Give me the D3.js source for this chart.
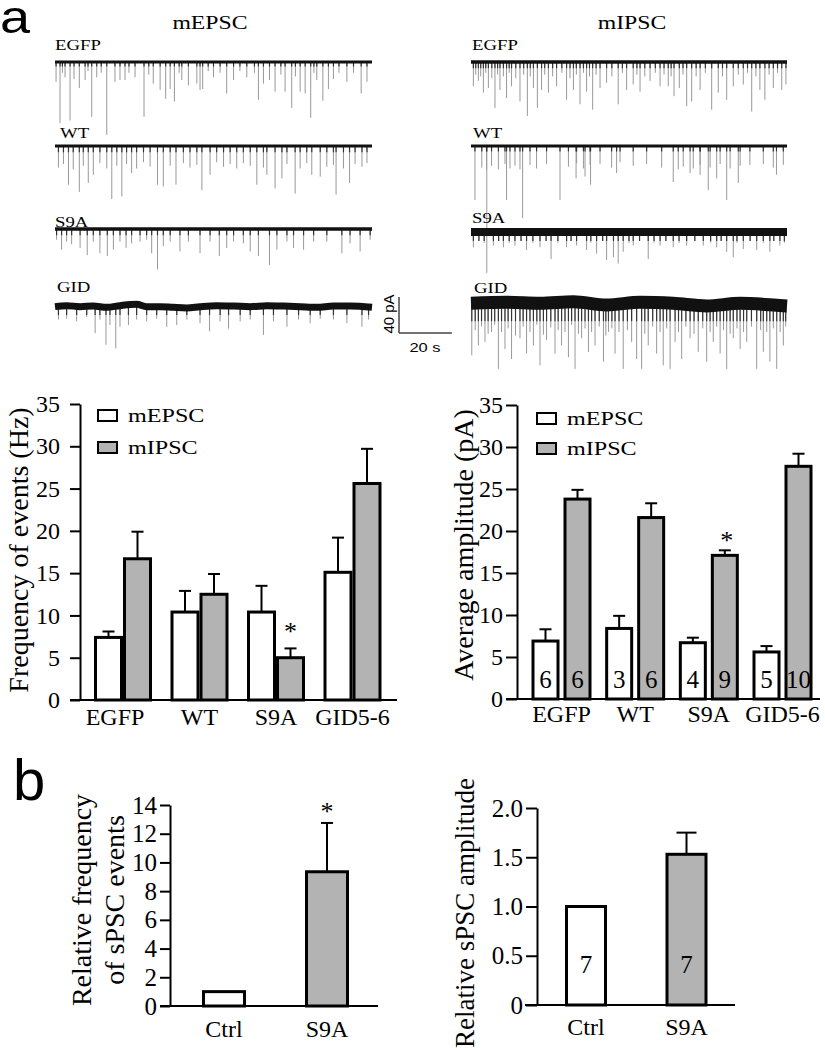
<!DOCTYPE html>
<html><head><meta charset="utf-8">
<script src="https://cdn.jsdelivr.net/npm/d3@7"></script>
<style>body{margin:0;background:#fff} svg{display:block}</style>
</head><body>
<svg id="fig" width="825" height="1050"></svg>
<script>
// ---------------- DATA ----------------
const groups = ["EGFP", "WT", "S9A", "GID5-6"];
const freqEPSC = [7.4, 10.4, 10.4, 15.1];
const freqEPSCerr = [0.7, 2.5, 3.1, 4.1];
const freqIPSC = [16.7, 12.5, 5.0, 25.6];
const freqIPSCerr = [3.2, 2.4, 1.1, 4.1];
const freqSig = [false, false, true, false];
const ampEPSC = [6.9, 8.4, 6.7, 5.6];
const ampEPSCerr = [1.4, 1.5, 0.6, 0.7];
const ampIPSC = [23.8, 21.6, 17.1, 27.7];
const ampIPSCerr = [1.1, 1.7, 0.6, 1.5];
const ampSig = [false, false, true, false];
const nEPSC = [6, 3, 4, 5];
const nIPSC = [6, 6, 9, 10];
const ticks35 = [0, 5, 10, 15, 20, 25, 30, 35];

const relCats = ["Ctrl", "S9A"];
const relFreq = [1.0, 9.35];
const relFreqErr = [0, 3.4];
const relFreqSig = [false, true];
const relFreqTicks = [0, 2, 4, 6, 8, 10, 12, 14];
const relAmp = [1.0, 1.53];
const relAmpErr = [0, 0.22];
const relAmpN = [7, 7];
const relAmpTicks = [0, 0.5, 1.0, 1.5, 2.0];
const relAmpTickLabels = ["0", "0.5", "1.0", "1.5", "2.0"];

// traces: [time s, event amplitude pA]
const traceNames = ["EGFP", "WT", "S9A", "GID"];
const egfpE = [[0.4,22],[1.9,68],[2.8,12],[3.8,17],[5.7,65],[7.2,19],[9.2,29],[11.4,20],[12.5,10],[13.9,61],[15.8,17],[17.5,12],[19.6,81],[22.7,22],[24.6,20],[26.5,20],[28,12],[30.3,17],[33.7,61],[35.5,14],[37.2,24],[39.8,31],[41.9,41],[43.6,30],[45.2,44],[47,12],[48,20],[50.5,26],[53.7,24],[54.9,31],[55.9,30],[58,10],[60,17],[62.5,12],[65,35],[67.6,20],[70,10],[72.6,17],[75.5,12],[77,42],[78.9,24],[81.2,20],[83.3,33],[85.5,14],[87.1,33],[89.6,51],[91,16],[92.8,33],[94.7,35],[96.8,62],[98,12],[99.1,20],[101.4,43],[103.5,30],[105.4,19],[107.5,12],[110.5,22],[113,12],[115.9,35],[118.1,22]];
const wtE = [[5.1,43],[9.2,51],[12.6,41],[14.5,32],[21.5,59],[25.3,56],[29.0,30],[38.8,43],[41.0,45],[45.8,43],[55.6,49],[58.7,32],[76.4,43],[80.2,32],[83.3,47],[85.9,36],[90.9,53],[97.2,32],[100.4,34],[106.4,54],[111.5,41],
  [1.3,24],[3.2,20],[6.9,26],[10.7,22],[17,19],[19.6,25],[23.4,22],[27.1,20],[30.9,25],[33.5,18],[36,23],[43.6,22],[48.6,19],[51.1,24],[53.7,21],[61.2,18],[63.8,23],[66.3,20],[68.8,25],[71.3,19],[73.9,22],[78.9,24],[87.8,20],[92.8,25],[95.3,19],[102.9,23],[105.4,21],[109.2,25],[113.6,20],[116.2,23],[118.1,19]];
const s9aE = [[0.6,12],[2.5,23],[4.4,14],[6.3,17],[9.5,21],[12.2,29],[14.5,14],[17,27],[19.8,30],[22.1,23],[24.6,14],[26.9,21],[29,16],[32.2,14],[34.7,12],[36.6,27],[38.8,45],[41,19],[43.6,14],[47.3,25],[50.5,14],[54.9,27],[58.7,14],[62.2,30],[65,21],[67.6,14],[71.3,16],[73.9,25],[77,30],[81.2,40],[84,23],[87.8,14],[90.3,21],[94.1,23],[97.9,14],[102.9,14],[108.6,27],[111.7,16],[115.5,25],[119.3,12]];
const gidE = [[1.3,14],[4.4,13],[8.2,16],[12,11],[15.2,29],[17,14],[19.3,42],[20.8,20],[23,46],[24.6,22],[27.8,20],[30.9,14],[34.7,16],[38.5,13],[42.3,22],[46.1,20],[49.9,14],[54.9,18],[58.5,27],[62.5,16],[65.7,24],[70.1,16],[73.9,14],[78.9,31],[82.7,16],[87.8,22],[92.2,14],[96.6,18],[100.4,13],[105.4,14],[110.5,18],[116.2,22],[118.7,14]];
const gidEwave = [[0,0.4],[4.4,1.5],[9.5,0.4],[14.5,1.1],[19.6,-0.4],[24.6,1.5],[30.9,3.0],[34.7,0.4],[39.8,0.4],[44.8,-0.4],[49.9,-1.0],[54.9,0.4],[61.2,1.5],[67.6,1.1],[73.9,0.4],[80.2,1.5],[86.5,1.1],[92.8,0.4],[99.1,-0.4],[105.4,1.1],[111.7,1.1],[120,-0.4]];

const egfpI = [[0.9,27],[2.8,21],[4.7,34],[6.6,29],[9.1,51],[11,31],[13.5,40],[15.4,27],[18.6,44],[21.4,60],[23.7,29],[25.2,51],[26.8,31],[29.4,34],[32.5,27],[36.3,42],[38.9,31],[41.4,47],[43.9,33],[46.2,53],[49,29],[51.5,23],[55.9,47],[59.1,31],[61.6,25],[64.2,33],[68,21],[71.8,27],[74.9,27],[77.1,38],[79.1,29],[81.9,49],[83.8,44],[87,31],[91.4,53],[93.9,34],[97.1,42],[99.6,27],[103.4,25],[106.6,55],[109.7,31],[111.6,42],[114.8,29],[118,31],[119.6,25],
  [1.8,14],[3.7,16],[5.6,12],[7.9,18],[10.1,14],[12.3,16],[14.5,12],[17,18],[20,14],[22.5,16],[28,14],[31,16],[34.5,12],[37.6,18],[40,14],[42.7,12],[45,16],[47.5,14],[53.5,16],[57.5,12],[63,14],[66,16],[70,12],[73.3,14],[76,16],[80.5,14],[85.5,16],[89,12],[95.5,16],[101.5,14],[105,12],[108.2,16],[113.2,14],[116.4,12]];
const wtI = [[1.5,60],[6,141],[13.5,60],[19.6,80],[33.8,60],[39.9,36],[43.3,34],[45.4,43],[55.3,30],[76.8,40],[83.2,30],[87,32],[90.1,49],[93.3,36],[97.1,60],[101.5,41],[116,32],
  [4.1,24],[5.9,26],[7.8,22],[10.4,26],[12.9,20],[14.8,25],[16.7,22],[18.6,26],[22.4,21],[24.9,25],[28.7,20],[37,23],[40.1,19],[42.7,25],[45.2,21],[49,20],[53.4,24],[56.6,18],[61.6,22],[66.7,20],[72.4,24],[78.7,26],[80.6,23],[84.4,25],[87,21],[90.8,24],[94.6,20],[98.4,25],[102.2,22],[105.9,21],[111,20],[114.8,24],[118.6,21]];
const s9aI = [[0.9,17],[8.5,15],[12.3,17],[16.7,15],[21.1,20],[26.2,17],[30.4,30],[36.3,17],[40.1,15],[43.9,20],[47.7,24],[51.5,31],[54.1,28],[55.9,35],[57.8,22],[61.6,15],[67.3,30],[71.8,15],[76.8,17],[81.9,15],[88.2,15],[93.3,17],[97.1,22],[99.6,28],[103.4,19],[108.5,20],[113.5,22],[117.3,15],
  [3,10],[5,12],[10.5,10],[14.5,12],[19,10],[23.5,12],[28.5,10],[33,12],[38,10],[45.5,12],[50,10],[60,12],[64,10],[69.5,12],[74,10],[79,12],[85,10],[91,12],[95,10],[101,12],[106,10],[111,12],[115,10],[119,12]];
const gidI = [[0.3,56],[2.8,45],[5.3,41],[7.8,30],[10.4,71],[12.9,49],[15.4,60],[18.6,37],[21.1,54],[23.7,45],[26.2,67],[28.7,39],[31.9,54],[34.4,45],[37,58],[39.5,71],[42,37],[44.6,52],[47.1,45],[50.3,63],[52.2,30],[54.7,54],[57.8,71],[61,41],[62.9,60],[64.8,71],[67.3,45],[70.5,54],[73,67],[75.6,71],[77.5,41],[80,60],[83.2,37],[86.3,52],[89.5,63],[92,41],[94.6,54],[97.1,71],[99.6,37],[102.2,49],[104.7,41],[108.5,71],[111,52],[113.5,63],[116.1,71],[118.6,45],
  [1.6,28],[4,24],[6.5,32],[9,22],[11.6,30],[14.1,26],[16.9,34],[19.8,24],[22.4,30],[25,22],[27.5,33],[30.3,25],[33.1,28],[35.7,30],[38.2,22],[40.8,32],[43.3,26],[45.8,30],[48.7,24],[51.2,34],[53.5,26],[56.2,30],[59.4,28],[66,32],[69,24],[71.8,30],[74.3,26],[78.8,30],[81.6,24],[84.7,32],[88,26],[90.8,30],[93.3,24],[95.9,28],[98.4,32],[101,26],[103.5,30],[106.5,24],[110,28],[112.3,30],[114.8,26],[117.4,30],[119.5,24]];
const gidIwave = [[0,1.9],[13.5,3.0],[26.2,1.9],[38.9,3.5],[51.5,0],[64.2,3.0],[76.8,1.9],[89.5,-1.0],[102.2,1.9],[114.8,0],[120,-1.0]];
const scaleBarPA = 40, scaleBarS = 20;

// ---------------- DRAW ----------------
const svg = d3.select("#fig");
const SERIF = "'Liberation Serif','Times New Roman',serif";
const SANS = "'Liberation Sans',Arial,sans-serif";
const GRAY = "#b3b3b3";

function txt(x, y, s, o = {}) {
  return svg.append("text")
    .attr("transform", `translate(${x},${y}) rotate(${o.rot || 0}) scale(${o.sx || 1},1)`)
    .attr("font-family", o.fam || SERIF)
    .attr("font-size", o.size || 24)
    .attr("text-anchor", o.anchor || "start")
    .attr("fill", "#000")
    .text(s);
}

// panel letters
txt(0, 33, "a", {fam: SANS, size: 47, sx: 1.15});
txt(13, 800, "b", {fam: SANS, size: 58});

// ---- traces ----
const tx1 = d3.scaleLinear().domain([0, 120]).range([55, 372]);
const tx2 = d3.scaleLinear().domain([0, 120]).range([471, 787]);
const ampPx = d3.scaleLinear().domain([0, 40]).range([0, 36]);

txt(210, 29, "mEPSC", {size: 19, sx: 1.25, anchor: "middle"});
txt(632, 29, "mIPSC", {size: 19, sx: 1.25, anchor: "middle"});

const traces = [
  {d: egfpE, x: tx1, base: 62, w: 3, dark: 5, wave: null, lx: 55, ly: 50},
  {d: wtE, x: tx1, base: 146, w: 3, dark: 7, wave: null, lx: 60, ly: 138},
  {d: s9aE, x: tx1, base: 229, w: 3.5, dark: 7, wave: null, lx: 55, ly: 227},
  {d: gidE, x: tx1, base: 307, w: 7, dark: 9, wave: gidEwave, lx: 57, ly: 292},
  {d: egfpI, x: tx2, base: 62, w: 3.5, dark: 7, wave: null, lx: 472, ly: 50},
  {d: wtI, x: tx2, base: 146, w: 3, dark: 6, wave: null, lx: 473, ly: 138},
  {d: s9aI, x: tx2, base: 232, w: 8, dark: 10, wave: null, lx: 472, ly: 223},
  {d: gidI, x: tx2, base: 305, w: 13, dark: 18, wave: gidIwave, lx: 474, ly: 293}
];
traces.forEach((tr, i) => {
  const g = svg.append("g");
  g.selectAll("line.sp").data(tr.d).join("line").attr("class", "sp")
    .attr("x1", d => tr.x(d[0])).attr("x2", d => tr.x(d[0]))
    .attr("y1", tr.base).attr("y2", d => tr.base + ampPx(d[1]))
    .attr("stroke", "#999").attr("stroke-width", 1);
  g.selectAll("line.dk").data(tr.d).join("line").attr("class", "dk")
    .attr("x1", d => tr.x(d[0])).attr("x2", d => tr.x(d[0]))
    .attr("y1", tr.base).attr("y2", d => tr.base + ampPx(Math.min(d[1], tr.dark)))
    .attr("stroke", "#333").attr("stroke-width", 1.2);
  const wave = tr.wave || [[0, 0], [120, 0]];
  g.append("path")
    .attr("d", d3.line().x(d => tr.x(d[0])).y(d => tr.base - ampPx(d[1])).curve(d3.curveMonotoneX)(wave))
    .attr("fill", "none").attr("stroke", "#111").attr("stroke-width", tr.w);
  txt(tr.lx, tr.ly, traceNames[i % 4], {size: 15, sx: 1.25});
});

// scale bar
{
  const x0 = 399, yb = 333;
  svg.append("line").attr("x1", x0).attr("x2", x0).attr("y1", yb - ampPx(scaleBarPA)).attr("y2", yb)
    .attr("stroke", "#444").attr("stroke-width", 1.5);
  svg.append("line").attr("x1", x0).attr("x2", x0 + tx1(scaleBarS) - tx1(0)).attr("y1", yb).attr("y2", yb)
    .attr("stroke", "#444").attr("stroke-width", 1.5);
  txt(394, 314, "40 pA", {fam: SANS, size: 15, rot: -90, anchor: "middle"});
  txt(425, 352, "20 s", {fam: SANS, size: 13.5, sx: 1.22, anchor: "middle"});
}

// ---- bar chart helpers ----
function yAxis(y, axX, vals, labels, size, tsz, pad) {
  const ax = d3.axisLeft(y).tickValues(vals).tickSize(tsz).tickPadding(pad).tickSizeOuter(0)
    .tickFormat((d, i) => labels ? labels[i] : d);
  const g = svg.append("g").attr("transform", `translate(${axX},0)`).call(ax);
  g.attr("font-family", SERIF).attr("font-size", size);
  g.select(".domain").attr("stroke", "#000").attr("stroke-width", 2);
  g.selectAll(".tick line").attr("stroke", "#000").attr("stroke-width", 2);
  g.selectAll(".tick text").attr("font-family", SERIF).attr("font-size", size).attr("fill", "#000");
}
function baseLine(x1, x2, y) {
  svg.append("line").attr("x1", x1).attr("x2", x2).attr("y1", y).attr("y2", y)
    .attr("stroke", "#000").attr("stroke-width", 2);
}
function bars(xs, vals, errs, y, w, fills, cap) {
  const g = svg.append("g");
  vals.forEach((v, i) => {
    const cx = xs[i];
    if (errs[i] > 0) {
      g.append("line").attr("x1", cx).attr("x2", cx).attr("y1", y(v)).attr("y2", y(v + errs[i]))
        .attr("stroke", "#000").attr("stroke-width", 2);
      g.append("line").attr("x1", cx - cap / 2).attr("x2", cx + cap / 2).attr("y1", y(v + errs[i])).attr("y2", y(v + errs[i]))
        .attr("stroke", "#000").attr("stroke-width", 2);
    }
    g.append("rect").attr("x", cx - w / 2).attr("y", y(v)).attr("width", w).attr("height", y(0) - y(v))
      .attr("fill", Array.isArray(fills) ? fills[i] : fills).attr("stroke", "#000").attr("stroke-width", 3);
  });
}
function legend(x, y1, y2, tx) {
  svg.append("rect").attr("x", x).attr("y", y1).attr("width", 19).attr("height", 11)
    .attr("fill", "#fff").attr("stroke", "#000").attr("stroke-width", 2);
  svg.append("rect").attr("x", x).attr("y", y2).attr("width", 19).attr("height", 11)
    .attr("fill", GRAY).attr("stroke", "#000").attr("stroke-width", 2);
  txt(tx, y1 + 12, "mEPSC", {size: 19, sx: 1.27});
  txt(tx, y2 + 12, "mIPSC", {size: 19, sx: 1.27});
}

// ---- A1 frequency ----
{
  const y = d3.scaleLinear().domain([0, 35]).range([700, 404]);
  const gx = d3.scalePoint().domain(groups).range([123, 352.5]);
  baseLine(70, 397, y(0));
  yAxis(y, 80, ticks35, null, 24, 10, 10);
  bars(groups.map(g => gx(g) - 14.5), freqEPSC, freqEPSCerr, y, 26, "#fff", 12);
  bars(groups.map(g => gx(g) + 14.5), freqIPSC, freqIPSCerr, y, 26, GRAY, 12);
  groups.forEach((g, i) => {
    txt(gx(g) - (i === 0 ? 8 : 0), 725, g, {size: 24, anchor: "middle"});
    if (freqSig[i]) txt(gx(g) + 14.5, y(freqIPSC[i] + freqIPSCerr[i]) - 8, "*", {size: 26, anchor: "middle"});
  });
  legend(98, 410, 442, 128);
  txt(28, 550, "Frequency of events (Hz)", {size: 28, rot: -90, anchor: "middle"});
}

// ---- A2 amplitude ----
{
  const y = d3.scaleLinear().domain([0, 35]).range([699, 405]);
  const gx = d3.scalePoint().domain(groups).range([561.5, 782.5]);
  baseLine(506, 820, y(0));
  yAxis(y, 517, ticks35, null, 24, 11, 3);
  bars(groups.map(g => gx(g) - 16), ampEPSC, ampEPSCerr, y, 25, "#fff", 12);
  bars(groups.map(g => gx(g) + 16), ampIPSC, ampIPSCerr, y, 25, GRAY, 12);
  groups.forEach((g, i) => {
    txt(gx(g), 722, g, {size: 24, anchor: "middle"});
    txt(gx(g) - 16, 688, nEPSC[i], {size: 25, anchor: "middle"});
    txt(gx(g) + 16, 688, nIPSC[i], {size: 25, anchor: "middle"});
    if (ampSig[i]) txt(gx(g) + 18, y(ampIPSC[i] + ampIPSCerr[i]) - 1, "*", {size: 26, anchor: "middle"});
  });
  legend(537, 413, 443, 567);
  txt(473, 545, "Average amplitude (pA)", {size: 28, rot: -90, anchor: "middle"});
}

// ---- B1 relative frequency ----
{
  const y = d3.scaleLinear().domain([0, 14]).range([1006, 805]);
  const gx = d3.scalePoint().domain(relCats).range([224, 327]);
  baseLine(160, 378, y(0));
  yAxis(y, 170, relFreqTicks, null, 25, 10, 3);
  bars(relCats.map(c => gx(c)), relFreq, relFreqErr, y, 41, ["#fff", GRAY], 12);
  relCats.forEach((c, i) => {
    txt(gx(c), 1037, c, {size: 24, anchor: "middle"});
    if (relFreqSig[i]) txt(gx(c), y(relFreq[i] + relFreqErr[i]) - 3, "*", {size: 26, anchor: "middle"});
  });
  txt(91, 900, "Relative frequency", {size: 28, rot: -90, anchor: "middle"});
  txt(124, 900, "of sPSC events", {size: 28, rot: -90, anchor: "middle"});
}

// ---- B2 relative amplitude ----
{
  const y = d3.scaleLinear().domain([0, 2]).range([1005, 808]);
  const gx = d3.scalePoint().domain(relCats).range([586, 686.5]);
  baseLine(525, 735, y(0));
  yAxis(y, 537, relAmpTicks, relAmpTickLabels, 25, 11, 3);
  bars(relCats.map(c => gx(c)), relAmp, relAmpErr, y, 39, ["#fff", GRAY], 20);
  relCats.forEach((c, i) => {
    txt(gx(c), 1035, c, {size: 24, anchor: "middle"});
    txt(gx(c), 973, relAmpN[i], {size: 25, anchor: "middle"});
  });
  txt(474, 913, "Relative sPSC amplitude", {size: 27, rot: -90, anchor: "middle"});
}
</script>
</body></html>
